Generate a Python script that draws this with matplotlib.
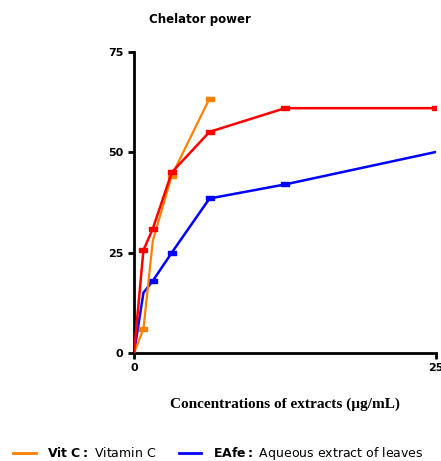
import matplotlib
matplotlib.use("Agg")
import matplotlib.pyplot as plt
from matplotlib.lines import Line2D

# concentrations (ug/mL) and chelating power (%)
conc = [0, 0.78, 1.56, 3.125, 6.25, 12.5, 25]
vitc = [0, 6.0, 28.0, 44.2, 63.4]
eafe = [0, 15.0, 18.0, 25.0, 38.5, 42.0, 50.1]
red_series = [0, 25.6, 31.0, 45.0, 55.1, 61.0, 61.0]

ORANGE = "#ff8000"
BLUE = "#0000ff"
RED = "#ff0000"

# wide flat rectangle marker, like the original
RECT = [(-1, -0.55), (1, -0.55), (1, 0.55), (-1, 0.55), (-1, -0.55)]

fig = plt.figure(figsize=(4.41, 4.61), dpi=100)
ax = fig.add_axes([0.3039, 0.2343, 0.6848, 0.6529])

ax.plot(conc, eafe, color=BLUE, lw=1.8, marker=RECT, ms=6, markevery=[2, 3, 4, 5], zorder=2)
ax.plot(conc[:len(vitc)], vitc, color=ORANGE, lw=1.6, marker=RECT, ms=6, markevery=[1, 3, 4], zorder=3)
ax.plot(conc, red_series, color=RED, lw=1.8, marker=RECT, ms=6, markevery=[1, 2, 3, 4, 5, 6], zorder=4)

ax.set_xlim(0, 25)
ax.set_ylim(0, 75)
ax.set_xticks([0, 25])
ax.set_yticks([0, 25, 50, 75])
for s in ("top", "right"):
    ax.spines[s].set_visible(False)
for s in ("left", "bottom"):
    ax.spines[s].set_linewidth(2)
ax.tick_params(width=2, length=4, labelsize=8)
for lbl in ax.get_xticklabels() + ax.get_yticklabels():
    lbl.set_fontweight("bold")

fig.text(0.453, 0.957, "Chelator power", fontsize=8.5, fontweight="bold",
         ha="center", va="center")
fig.text(0.647, 0.124, "Concentrations of extracts (µg/mL)", fontsize=11,
         fontweight="bold", family="Liberation Serif", ha="center", va="center")

handles = [Line2D([], [], color=ORANGE, lw=2), Line2D([], [], color=BLUE, lw=2)]
labels = [r"$\bf{Vit\ C:}$ Vitamin C", r"$\bf{EAfe:}$ Aqueous extract of leaves"]
fig.legend(handles, labels, loc="lower left", bbox_to_anchor=(0.005, -0.027), ncol=2,
           frameon=False, fontsize=9, handlelength=1.8, columnspacing=1.8,
           handletextpad=0.9)

fig.savefig("out.png", dpi=100)
